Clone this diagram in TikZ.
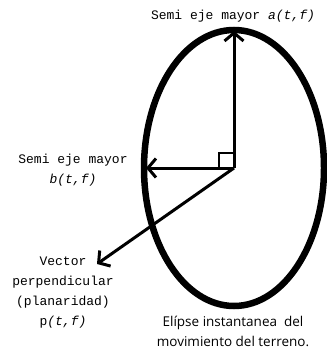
\documentclass[tikz,border=0pt]{standalone}
\usepackage{fontspec}
\setmainfont{Open Sans}
\setmonofont{Liberation Mono}
\usetikzlibrary{arrows.meta}
\tikzset{
  mono/.style={font=\ttfamily\fontsize{13}{20}\selectfont, align=center},
  axis/.style={line width=3pt, -{Straight Barb[length=8pt,width=19pt]}}
}
\begin{document}
\begin{tikzpicture}[x=1pt,y=-1pt]
\useasboundingbox (0,0) rectangle (326,350);
\coordinate (o) at (234,168);
\coordinate (a) at (234,31);
\coordinate (b) at (146,168);
\coordinate (p) at (97,264);
\draw[line width=6.5pt] (o) ellipse [x radius=90pt, y radius=138pt];
\draw[axis] (o) -- (a);
\draw[axis] (o) -- (b);
\draw[axis] (o) -- (p);
\draw[line width=2.5pt] ([xshift=-15pt]o) -- ++(0,-15) -- ++(15,0);
\node[mono] (alabel) at (233,16) {Semi eje mayor \textit{a(t,f)}};
\node[mono] (blabel) at (73,170) {Semi eje mayor\\\textit{b(t,f)}};
\node[mono] (plabel) at (63,293) {Vector\\perpendicular\\(planaridad)\\p\textit{(t,f)}};
\node[font=\fontsize{13.5}{20}\selectfont, align=center] (elabel) at (233,331) {Elípse instantanea\ \ del\\movimiento del terreno.};
\end{tikzpicture}
\end{document}
